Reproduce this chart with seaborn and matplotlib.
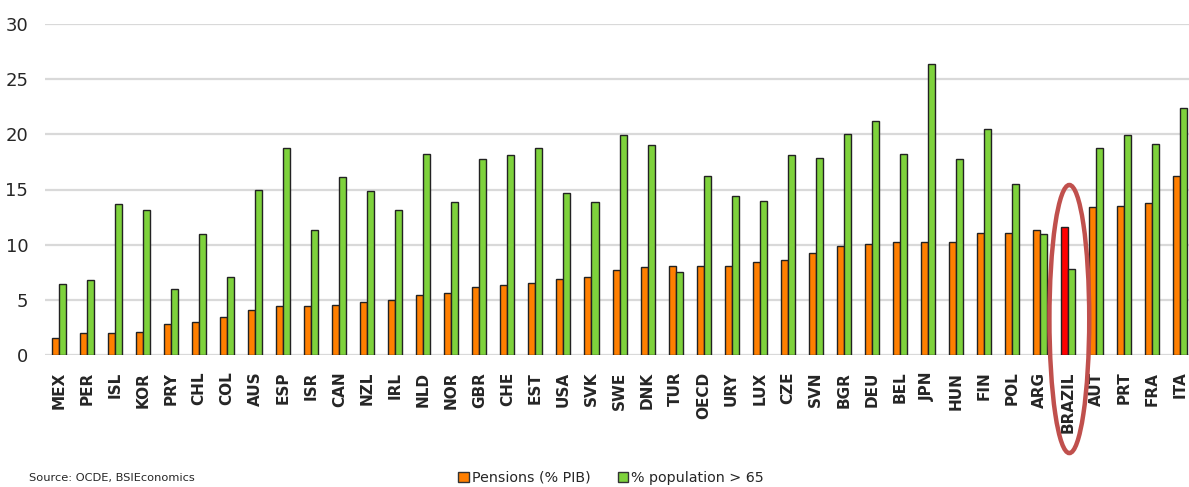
import matplotlib
matplotlib.use("Agg")
import matplotlib.pyplot as plt
from matplotlib.patches import Ellipse, Patch
import seaborn as sns
import pandas as pd

# Countries ordered by public pension spending
countries = ["MEX", "PER", "ISL", "KOR", "PRY", "CHL", "COL", "AUS", "ESP", "ISR",
             "CAN", "NZL", "IRL", "NLD", "NOR", "GBR", "CHE", "EST", "USA", "SVK",
             "SWE", "DNK", "TUR", "OECD", "URY", "LUX", "CZE", "SVN", "BGR", "DEU",
             "BEL", "JPN", "HUN", "FIN", "POL", "ARG", "BRAZIL", "AUT", "PRT", "FRA",
             "ITA"]

# Public pension spending, % of GDP
pensions = [1.5, 2.0, 2.0, 2.1, 2.8, 3.0, 3.4, 4.1, 4.4, 4.4,
            4.5, 4.8, 5.0, 5.4, 5.6, 6.2, 6.3, 6.5, 6.9, 7.1,
            7.7, 8.0, 8.1, 8.1, 8.1, 8.4, 8.6, 9.2, 9.9, 10.1,
            10.2, 10.2, 10.2, 11.1, 11.1, 11.3, 11.6, 13.4, 13.5, 13.8,
            16.2]

# Share of population aged over 65, %
over65 = [6.4, 6.8, 13.7, 13.1, 6.0, 11.0, 7.1, 15.0, 18.8, 11.3,
          16.1, 14.9, 13.1, 18.2, 13.9, 17.8, 18.1, 18.8, 14.7, 13.9,
          19.9, 19.0, 7.5, 16.2, 14.4, 14.0, 18.1, 17.9, 20.0, 21.2,
          18.2, 26.4, 17.8, 20.5, 15.5, 11.0, 7.8, 18.8, 19.9, 19.1,
          22.4]

series_names = ["Pensions (% PIB)", "% population > 65"]
highlight = "BRAZIL"
y_ticks = [0, 5, 10, 15, 20, 25, 30]

ORANGE = "#FF7F00"
GREEN = "#7ED23C"
RED = "#FF0000"
RING = "#C0504D"

df = pd.DataFrame({"country": countries,
                   series_names[0]: pensions,
                   series_names[1]: over65})
long_df = df.melt(id_vars="country", var_name="series", value_name="value")

sns.set_theme(style="white")
plt.rcParams["font.family"] = ["DejaVu Sans"]

fig = plt.figure(figsize=(11.89, 4.87), dpi=100)
ax = fig.add_axes([45 / 1189, 132 / 487, 1144 / 1189, 331 / 487])

sns.barplot(data=long_df, x="country", y="value", hue="series",
            order=countries, hue_order=series_names,
            palette=[ORANGE, GREEN], saturation=1, width=0.5,
            edgecolor="#222222", linewidth=1.0, legend=False, ax=ax,
            zorder=3)

# Brazil's pension bar is emphasised in red
idx = countries.index(highlight)
ax.containers[0][idx].set_facecolor(RED)

ax.set_ylim(0, 30)
ax.set_xlim(-0.5, 40.32)
ax.set_yticks(y_ticks)
ax.set_yticklabels([str(t) for t in y_ticks])
ax.yaxis.grid(True, color="#D9D9D9", linewidth=1.6, zorder=0)
ax.xaxis.grid(False)
ax.set_axisbelow(True)
for s in ax.spines.values():
    s.set_visible(False)
ax.set_xlabel("")
ax.set_ylabel("")

ax.tick_params(axis="y", length=0, pad=12, labelsize=13, labelcolor="#262626")
ax.tick_params(axis="x", length=0, pad=12, labelsize=11, labelcolor="#262626")
for lab in ax.get_xticklabels():
    lab.set_rotation(90)
    lab.set_fontweight("bold")
    lab.set_va("top")
    lab.set_ha("center")

# Ring around Brazil
ring = Ellipse((36.05, 3.26), width=1.42, height=24.3, fill=False,
               edgecolor=RING, linewidth=3.2, clip_on=False, zorder=10)
ax.add_patch(ring)

handles = [Patch(facecolor=ORANGE, edgecolor="#333333", linewidth=1.0),
           Patch(facecolor=GREEN, edgecolor="#333333", linewidth=1.0)]
fig.legend(handles, series_names, loc="center", bbox_to_anchor=(0.514, 0.019),
           ncol=2, frameon=False, fontsize=10.3, handlelength=0.75,
           handleheight=0.75, handletextpad=0.2, columnspacing=1.9,
           labelcolor="#262626")

fig.text(29 / 1189, 9 / 487, "Source: OCDE, BSIEconomics", fontsize=8.2,
         color="#262626", ha="left", va="center")

fig.savefig("out.png", dpi=100)
